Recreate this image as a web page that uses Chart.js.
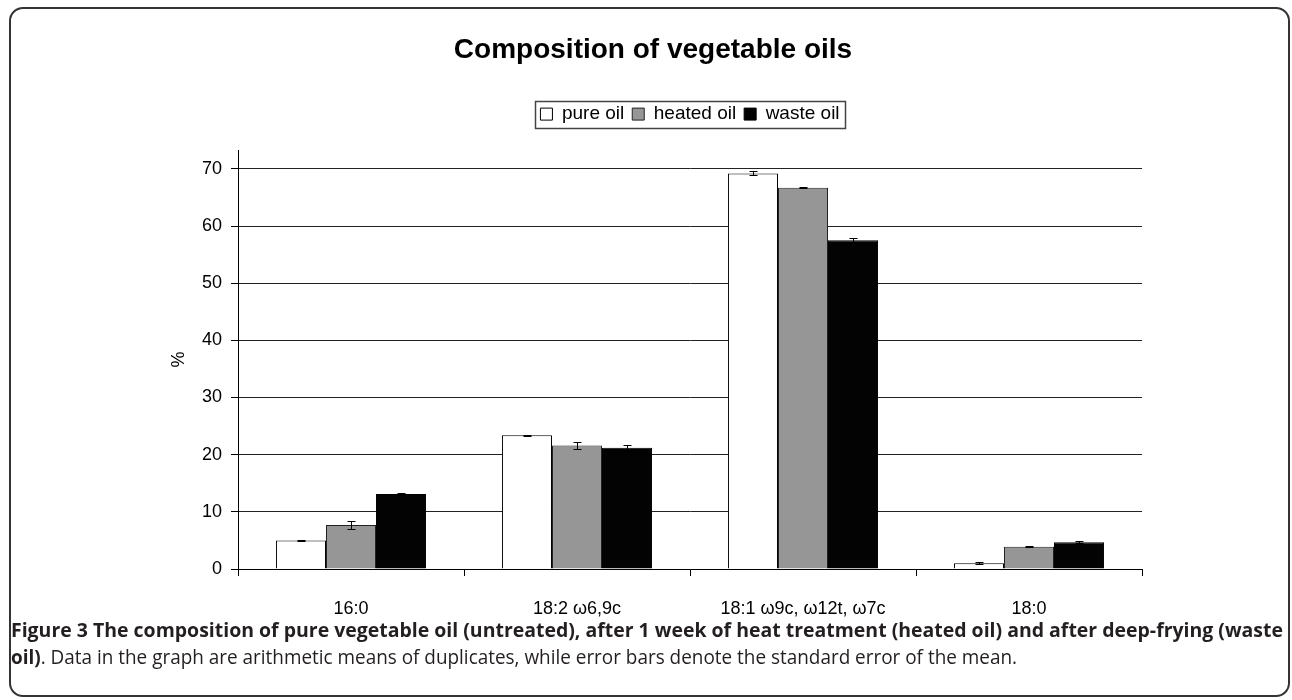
<!DOCTYPE html>
<html>
<head>
<meta charset="utf-8">
<title>Composition of vegetable oils</title>
<script src="https://cdn.jsdelivr.net/npm/chart.js@4.4.1/dist/chart.umd.min.js"></script>
<style>
  html, body { margin: 0; padding: 0; background: #fff; }
  body { width: 1292px; height: 700px; position: relative; overflow: hidden; }
  #frame {
    position: absolute; left: 9px; top: 7px; width: 1281px; height: 690px;
    border: 2px solid #333; border-radius: 14px; box-sizing: border-box;
  }
  #chart { position: absolute; left: 0; top: 0; }
  .cap {
    position: absolute; left: 11px; white-space: nowrap;
    font-family: 'Open Sans', 'Noto Sans', sans-serif; font-size: 20px; line-height: 24px;
    color: #231f20; transform-origin: 0 50%;
  }
  #cap1 { top: 618px; }
  #cap2 { top: 645px; }
</style>
</head>
<body>
<div id="frame"></div>
<canvas id="chart" width="1292" height="620"></canvas>
<div id="cap1" class="cap"><b>Figure 3 The composition of pure vegetable oil (untreated), after 1 week of heat treatment (heated oil) and after deep-frying (waste</b></div>
<div id="cap2" class="cap"><b>oil)</b>. Data in the graph are arithmetic means of duplicates, while error bars denote the standard error of the mean.</div>
<script>
// fatty acids on the x axis
const categories = ['16:0', '18:2 ω6,9c', '18:1 ω9c, ω12t, ω7c', '18:0'];
const seriesNames = ['pure oil', 'heated oil', 'waste oil'];

// mean % per fatty acid
const pureOil = [5.0, 23.4, 69.2, 1.0];
const heatedOil = [7.7, 21.6, 66.7, 3.9];
const wasteOil = [13.1, 21.2, 57.5, 4.7];

// standard error of the mean
const pureErr = [0.05, 0.05, 0.35, 0.15];
const heatedErr = [0.75, 0.65, 0.05, 0.05];
const wasteErr = [0.15, 0.5, 0.35, 0.12];

const yMax = 73.3;
const yStep = 10;

Chart.defaults.font.family = "'Liberation Sans', Arial, sans-serif";
Chart.defaults.color = '#000';

// draws the +/- SE whiskers on top of each bar
const errorBars = {
  id: 'errorBars',
  afterDatasetsDraw(chart) {
    const { ctx } = chart;
    const y = chart.scales.y;
    ctx.save();
    ctx.strokeStyle = '#000';
    ctx.lineWidth = 1;
    chart.data.datasets.forEach((ds, i) => {
      const meta = chart.getDatasetMeta(i);
      meta.data.forEach((bar, j) => {
        const err = ds.errors[j];
        if (!err) return;
        const top = Math.round(y.getPixelForValue(ds.data[j] + err)) + 0.5;
        const bot = Math.round(y.getPixelForValue(ds.data[j] - err)) + 0.5;
        const x = Math.round(bar.x) + 0.5;
        ctx.beginPath();
        ctx.moveTo(x, top); ctx.lineTo(x, bot);
        ctx.moveTo(x - 4, top); ctx.lineTo(x + 4, top);
        ctx.moveTo(x - 4, bot); ctx.lineTo(x + 4, bot);
        ctx.stroke();
      });
    });
    ctx.restore();
  }
};

// box around the legend items, like the Excel legend
const legendFrame = {
  id: 'legendFrame',
  afterDraw(chart) {
    const boxes = chart.legend && chart.legend.legendHitBoxes;
    if (!boxes || !boxes.length) return;
    const first = boxes[0];
    const last = boxes[boxes.length - 1];
    const left = Math.round(first.left - 5) + 0.5;
    const right = Math.round(last.left + last.width + 5) + 0.5;
    const top = Math.round(first.top - 4) + 0.5;
    const bottom = Math.round(first.top + first.height + 4) + 0.5;
    const { ctx } = chart;
    ctx.save();
    ctx.strokeStyle = '#444';
    ctx.lineWidth = 1.5;
    ctx.strokeRect(left, top, right - left, bottom - top);
    ctx.restore();
  }
};

new Chart(document.getElementById('chart'), {
  type: 'bar',
  data: {
    labels: categories,
    datasets: [
      { label: seriesNames[0], data: pureOil, errors: pureErr, backgroundColor: '#ffffff', borderColor: '#000', borderWidth: 1 },
      { label: seriesNames[1], data: heatedOil, errors: heatedErr, backgroundColor: '#969696', borderColor: '#222', borderWidth: 1 },
      { label: seriesNames[2], data: wasteOil, errors: wasteErr, backgroundColor: '#030303', borderColor: '#000', borderWidth: 1 },
    ],
  },
  options: {
    responsive: false,
    animation: false,
    layout: { padding: { left: 164, right: 150, top: 0, bottom: 0 } },
    datasets: { bar: { categoryPercentage: 0.664, barPercentage: 1.0 } },
    plugins: {
      title: {
        display: true,
        text: 'Composition of vegetable oils',
        font: { size: 28, weight: 'bold' },
        color: '#000',
        padding: { top: 33, bottom: 30 },
      },
      legend: {
        display: true,
        position: 'top',
        fullSize: false,
        labels: {
          boxWidth: 12,
          boxHeight: 12,
          padding: 8,
          font: { size: 19 },
          color: '#000',
        },
      },
      // empty spacer between legend and plot
      subtitle: {
        display: true,
        text: ' ',
        weight: 100,
        font: { size: 10, lineHeight: 1 },
        padding: { top: 0, bottom: 6.4 },
      },
      tooltip: { enabled: false },
    },
    scales: {
      x: {
        grid: { display: true, drawOnChartArea: false, offset: true, tickLength: 7, color: '#000' },
        border: { display: true, color: '#000', width: 1 },
        ticks: { font: { size: 18 }, color: '#000', padding: 22, maxRotation: 0 },
        afterFit: (scale) => { scale.height = 51; },
      },
      y: {
        min: 0,
        max: yMax,
        grid: { color: '#222', tickColor: '#000', tickLength: 7 },
        border: { display: true, color: '#000', width: 1 },
        ticks: { stepSize: yStep, includeBounds: false, font: { size: 18 }, color: '#000', padding: 9 },
        title: { display: true, text: '%', font: { size: 18 }, color: '#000', padding: { top: 4, bottom: 0 } },
        afterFit: (scale) => { scale.width = 74; },
      },
    },
  },
  plugins: [errorBars, legendFrame],
});

// squeeze the caption lines to the width of the condensed journal font
function fitCaption(id, target) {
  const el = document.getElementById(id);
  const w = el.getBoundingClientRect().width;
  if (w > 0) el.style.transform = 'scaleX(' + (target / w) + ')';
}
fitCaption('cap1', 1272);
fitCaption('cap2', 1006);
</script>
</body>
</html>
